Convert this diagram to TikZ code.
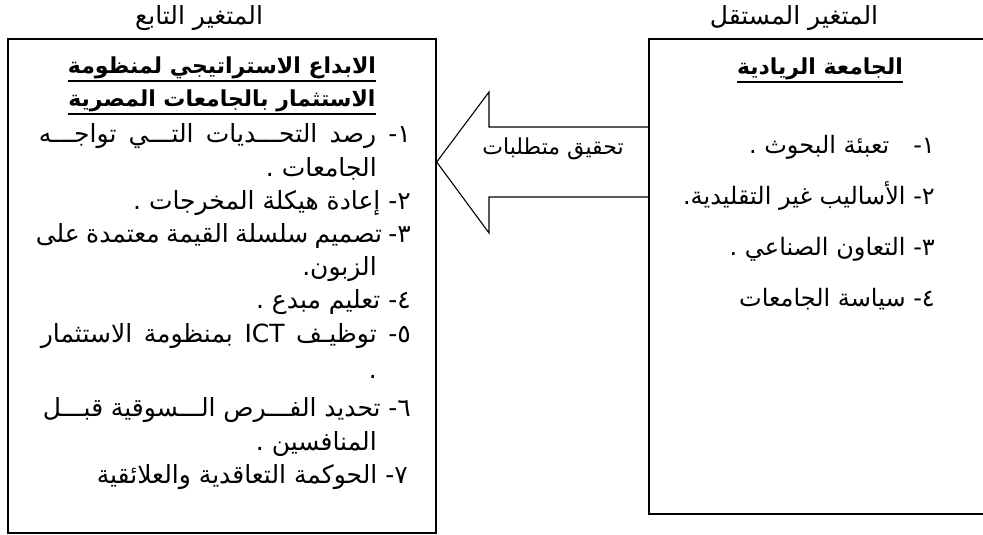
\documentclass[tikz,border=0pt]{standalone}
\usepackage{fontspec}
\newfontfamily\arabicfont[Script=Arabic]{DejaVu Sans}
\TeXXeTstate=1
\newcommand{\artxt}[1]{{\arabicfont\beginR #1\endR}}
\begin{document}
\begin{tikzpicture}[x=1pt, y=-1pt,
varbox/.style={draw, rectangle, line width=1.4pt, inner sep=0pt},
arfont/.style={font=\arabicfont\fontsize{25}{30}\selectfont},
heading/.style={font=\arabicfont\bfseries\fontsize{22}{26}\selectfont, inner sep=0pt},
headrule/.style={line width=2pt},
itemline/.style={arfont, anchor=base east, inner sep=0pt},
]
\useasboundingbox (0,0) rectangle (983,535);

% the two boxes
\node (dep) at (222,286) [varbox, minimum width=428pt, minimum height=494pt] {};
\node (indep) at (819.5,276.5) [varbox, minimum width=341pt, minimum height=475pt] {};

% titles over the boxes
\node (deptitle) at (199,18) [arfont] {\artxt{المتغير التابع}};
\node (indeptitle) at (794,18) [arfont] {\artxt{المتغير المستقل}};

% independent variable
\node (indephead) at (820,69) [heading] {\artxt{الجامعة الريادية}};
\draw[headrule] ([yshift=-2pt]indephead.south west) -- ([yshift=-2pt]indephead.south east);
\node (i1) at (935,153) [itemline, font=\arabicfont\fontsize{24}{29}\selectfont] {\artxt{١-\quad تعبئة البحوث .}};
\node (i2) at (935,204) [itemline, font=\arabicfont\fontsize{24}{29}\selectfont] {\artxt{٢- الأساليب غير التقليدية.}};
\node (i3) at (935,255) [itemline, font=\arabicfont\fontsize{24}{29}\selectfont] {\artxt{٣- التعاون الصناعي .}};
\node (i4) at (935,306) [itemline, font=\arabicfont\fontsize{24}{29}\selectfont] {\artxt{٤- سياسة الجامعات}};

% dependent variable
\node (dephead1) at (222,68) [heading] {\artxt{الابداع الاستراتيجي لمنظومة}};
\node (dephead2) at (222,101) [heading] {\artxt{الاستثمار بالجامعات المصرية}};
\draw[headrule] ([yshift=-2pt]dephead1.south west) -- ([yshift=-2pt]dephead1.south east);
\draw[headrule] ([yshift=-2pt]dephead2.south west) -- ([yshift=-2pt]dephead2.south east);
\node (d1) at (411,142) [itemline] {\makebox[372pt][s]{\artxt{١- رصد التحـــديات التـــي تواجـــه}}};
\node (d1b) at (377,176) [itemline] {\artxt{الجامعات .}};
\node (d2) at (411,209) [itemline] {\artxt{٢- إعادة هيكلة المخرجات .}};
\node (d3) at (411,242) [itemline] {\makebox[375pt][s]{\artxt{٣- تصميم سلسلة القيمة معتمدة على}}};
\node (d3b) at (377,275) [itemline] {\artxt{الزبون.}};
\node (d4) at (411,308) [itemline] {\artxt{٤- تعليم مبدع .}};
\node (d5) at (411,342) [itemline] {\makebox[370pt][s]{\artxt{٥- توظيـف \beginL ICT\endL{} بمنظومة الاستثمار}}};
\node (d5b) at (377,378) [itemline] {\artxt{.}};
\node (d6) at (411,416) [itemline] {\makebox[368pt][s]{\artxt{٦- تحديد الفـــرص الـــسوقية قبـــل}}};
\node (d6b) at (377,450) [itemline] {\artxt{المنافسين .}};
\node (d7) at (408,483) [itemline] {\artxt{٧- الحوكمة التعاقدية والعلائقية}};

% block arrow from independent to dependent
\coordinate (shafttop) at (0,127);
\coordinate (shaftbot) at (0,197);
\draw[line width=1.1pt, line join=miter]
  (indep.west |- shafttop) -- (489,127) -- (489,92) -- (dep.east |- 0,162)
  -- (489,233) -- (489,197) -- (indep.west |- shaftbot);
\node (need) at (553,149) [font=\arabicfont\fontsize{22}{26}\selectfont] {\artxt{تحقيق متطلبات}};

\end{tikzpicture}
\end{document}
